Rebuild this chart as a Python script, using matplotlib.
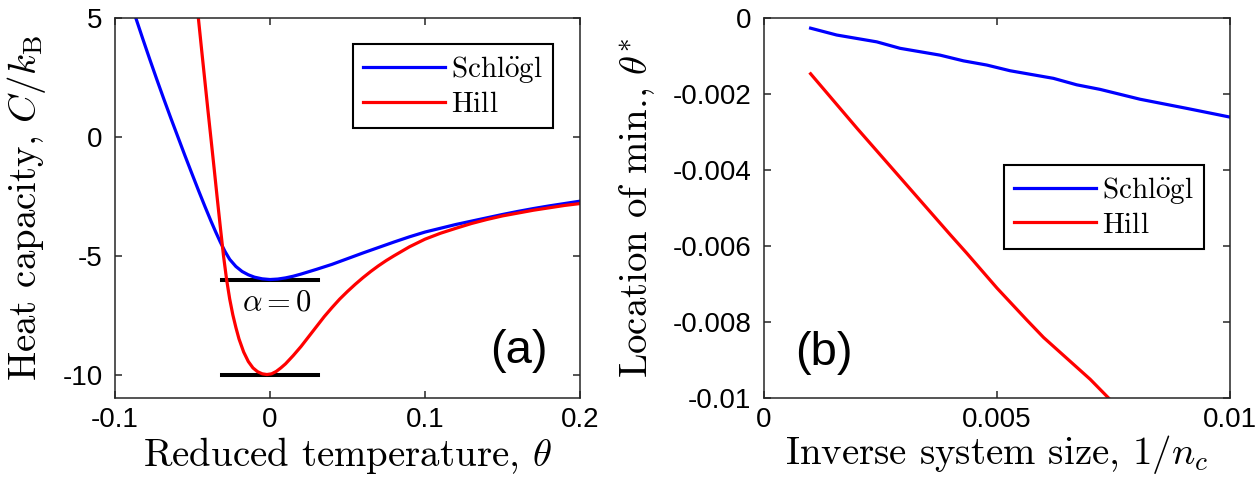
import matplotlib
matplotlib.use('Agg')
import matplotlib.pyplot as plt

# ---------------- data ----------------
# Panel (a): heat capacity vs reduced temperature
theta_schlogl = [-0.0865, -0.082, -0.0775, -0.073, -0.0685, -0.064, -0.0595, -0.055, -0.0505,
                 -0.046, -0.042, -0.038, -0.035, -0.032, -0.029, -0.026, -0.022, -0.018, -0.014,
                 -0.01, -0.005, 0.0, 0.005, 0.01, 0.015, 0.02, 0.03, 0.04, 0.05, 0.06, 0.07,
                 0.08, 0.09, 0.1, 0.11, 0.12, 0.13, 0.14, 0.15, 0.16, 0.17, 0.18, 0.19, 0.2]
C_schlogl = [5.0, 4.12, 3.26, 2.42, 1.6, 0.8, 0.02, -0.76, -1.52,
             -2.27, -2.92, -3.55, -4.0, -4.43, -4.82, -5.15, -5.45, -5.66, -5.8,
             -5.9, -5.97, -6.0, -5.98, -5.93, -5.86, -5.77, -5.57, -5.36, -5.12, -4.88, -4.65,
             -4.42, -4.2, -4.0, -3.84, -3.68, -3.54, -3.4, -3.26, -3.13, -3.01, -2.9, -2.8, -2.7]

theta_hill = [-0.0462, -0.044, -0.042, -0.04, -0.038, -0.036, -0.034, -0.032, -0.03, -0.028,
              -0.026, -0.024, -0.022, -0.02, -0.017, -0.014, -0.011, -0.008, -0.005, -0.002,
              0.001, 0.004, 0.007, 0.01, 0.015, 0.02, 0.025, 0.03, 0.035, 0.04, 0.045, 0.05,
              0.055, 0.06, 0.065, 0.07, 0.075, 0.08, 0.09, 0.1, 0.11, 0.12, 0.13, 0.14, 0.15,
              0.16, 0.17, 0.18, 0.19, 0.2]
C_hill = [5.0, 3.6, 2.35, 1.1, -0.12, -1.35, -2.6, -3.82, -5.0, -6.0,
          -6.82, -7.48, -8.02, -8.5, -9.05, -9.45, -9.72, -9.88, -9.97, -10.0,
          -9.97, -9.87, -9.72, -9.55, -9.2, -8.82, -8.4, -7.98, -7.56, -7.18, -6.82, -6.5,
          -6.2, -5.92, -5.66, -5.42, -5.2, -5.0, -4.62, -4.3, -4.05, -3.84, -3.64, -3.47, -3.32,
          -3.2, -3.08, -2.98, -2.88, -2.8]

ref_theta = [-0.031, 0.031]
ref_levels = [-6.0, -10.0]

# Panel (b): location of the minimum vs inverse system size
inv_n_schlogl = [0.001, 0.00156, 0.00242, 0.00292, 0.00378, 0.00428, 0.00478, 0.00528,
                 0.00621, 0.00671, 0.00721, 0.00807, 0.00907, 0.01]
thmin_schlogl = [-0.00026, -0.00044, -0.00062, -0.00079, -0.00097, -0.00112, -0.00123, -0.00138,
                 -0.00158, -0.00175, -0.00187, -0.00213, -0.00237, -0.0026]

inv_n_hill = [0.001, 0.002, 0.003, 0.004, 0.00435, 0.005, 0.00564, 0.006, 0.007, 0.0074]
thmin_hill = [-0.00146, -0.0029, -0.0043, -0.0057, -0.00618, -0.0071, -0.00794, -0.0084, -0.0095, -0.0100]

series_labels = [r'$\mathrm{Schl\ddot{o}gl}$', r'$\mathrm{Hill}$']

xticks_a = [-0.1, 0, 0.1, 0.2]
xticklabels_a = ['-0.1', '0', '0.1', '0.2']
yticks_a = [-10, -5, 0, 5]
yticklabels_a = ['-10', '-5', '0', '5']
xticks_b = [0, 0.005, 0.01]
xticklabels_b = ['0', '0.005', '0.01']
yticks_b = [-0.01, -0.008, -0.006, -0.004, -0.002, 0]
yticklabels_b = ['-0.01', '-0.008', '-0.006', '-0.004', '-0.002', '0']

# ---------------- style ----------------
plt.rcParams['mathtext.fontset'] = 'cm'
plt.rcParams['font.family'] = ['Liberation Sans', 'DejaVu Sans']
plt.rcParams['axes.unicode_minus'] = False

W, H = 1260, 493
fig = plt.figure(figsize=(W / 100, H / 100), dpi=100)

ax1 = fig.add_axes([115 / W, 1 - 398.3 / H, 465 / W, 380 / H])
ax2 = fig.add_axes([764 / W, 1 - 398.3 / H, 466 / W, 380 / H])

BLUE = '#0000ff'
RED = '#ff0000'
LW = 2.3


def style(ax):
    ax.tick_params(direction='in', length=5, width=1.1, top=True, right=True,
                   labelsize=20, color='#262626', labelcolor='black')
    ax.tick_params(axis='x', pad=6)
    ax.tick_params(axis='y', pad=9)
    for s in ax.spines.values():
        s.set_linewidth(1.1)
        s.set_color('#262626')


# Panel (a)
l1, = ax1.plot(theta_schlogl, C_schlogl, color=BLUE, lw=LW)
l2, = ax1.plot(theta_hill, C_hill, color=RED, lw=LW)
for lev in ref_levels:
    ax1.plot(ref_theta, [lev, lev], color='black', lw=2.9, zorder=1)
ax1.set_xlim(-0.1, 0.2)
ax1.set_ylim(-11, 5)
ax1.set_xticks(xticks_a)
ax1.set_xticklabels(xticklabels_a)
ax1.set_yticks(yticks_a)
ax1.set_yticklabels(yticklabels_a)
style(ax1)
ax1.text(0.0048, -6.96, r'$\alpha = 0$', fontsize=22, ha='center', va='center')
ax1.text(0.1606, -9.02, '(a)', fontsize=34, ha='center', va='center')

leg_kw = dict(loc='upper right', borderaxespad=0, prop={'size': 21}, handlelength=2.8,
              handletextpad=0.2, labelspacing=0.15, borderpad=0.35, fancybox=False,
              edgecolor='black', framealpha=1)
leg1 = ax1.legend([l1, l2], series_labels, bbox_to_anchor=(0.942, 0.932), **leg_kw)
leg1.get_frame().set_linewidth(1.5)

# Panel (b)
m1, = ax2.plot(inv_n_schlogl, thmin_schlogl, color=BLUE, lw=LW)
m2, = ax2.plot(inv_n_hill, thmin_hill, color=RED, lw=LW)
ax2.set_xlim(0, 0.01)
ax2.set_ylim(-0.01, 0)
ax2.set_xticks(xticks_b)
ax2.set_xticklabels(xticklabels_b)
ax2.set_yticks(yticks_b)
ax2.set_yticklabels(yticklabels_b)
style(ax2)
ax2.text(0.00129, -0.00881, '(b)', fontsize=34, ha='center', va='center')
leg2 = ax2.legend([m1, m2], series_labels, bbox_to_anchor=(0.944, 0.614), **leg_kw)
leg2.get_frame().set_linewidth(1.5)

# Axis labels (Computer Modern text + math)
LBL = 28
CM = ['cmr10', 'DejaVu Serif']
fig.text(27 / W, 1 - 208 / H, r'Heat capacity, $C/k_\mathrm{B}$', family=CM,
         rotation=90, ha='center', va='center', fontsize=LBL)
fig.text(637 / W, 1 - 208 / H, r'Location of min., $\theta^{*}$', family=CM,
         rotation=90, ha='center', va='center', fontsize=LBL)
fig.text(347.5 / W, 1 - 455 / H, r'Reduced temperature, $\theta$', family=CM,
         ha='center', va='center', fontsize=LBL)
fig.text(997 / W, 1 - 455 / H, r'Inverse system size, $1/n_c$', family=CM,
         ha='center', va='center', fontsize=LBL)

fig.savefig('out.png', dpi=100)
